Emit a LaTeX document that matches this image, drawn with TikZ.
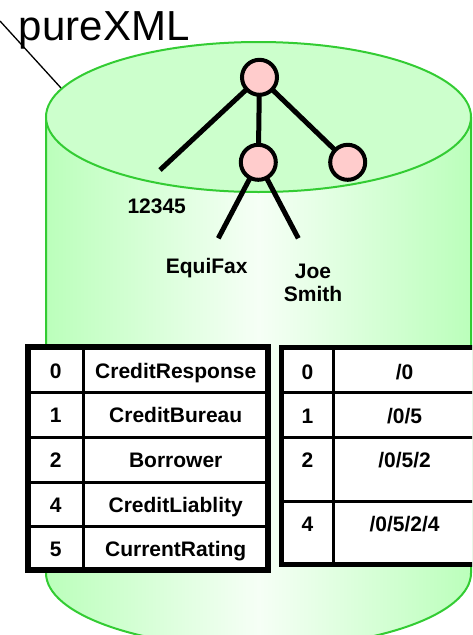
\documentclass[tikz,border=0pt]{standalone}
\usepackage{fontspec}
\setmainfont{Liberation Sans}
\definecolor{cylrim}{RGB}{51,204,51}
\definecolor{cyllid}{RGB}{204,255,204}
\definecolor{cylside}{RGB}{187,255,187}
\definecolor{cylmid}{RGB}{246,255,246}
\definecolor{knotpink}{RGB}{255,204,204}

\begin{document}
\begin{tikzpicture}[x=1pt, y=-1pt,
    every node/.style={inner sep=0pt, outer sep=0pt},
    knot/.style={circle, draw=black, line width=4pt, fill=knotpink, minimum size=35pt},
    branch/.style={line width=5pt},
    tag/.style={font=\bfseries\fontsize{21}{23}\selectfont, anchor=base, align=center},
    frame/.style={line width=5.5pt, fill=white},
    rule/.style={line width=3pt}]
      \useasboundingbox (0,0) rectangle (472,635);
      \clip (0,0) rectangle (472,635);
      % cylinder
      \shade[left color=cylside, right color=cylside, middle color=cylmid]
        (46,117) -- (46,573) arc[start angle=180, end angle=0, x radius=212.5, y radius=75] -- (471,117) -- cycle;
      \draw[cylrim, line width=2pt]
        (46,117) -- (46,573) arc[start angle=180, end angle=0, x radius=212.5, y radius=75] -- (471,117);
      \draw[cylrim, line width=2pt, fill=cyllid] (258.5,117) ellipse[x radius=212.5, y radius=75];
      % label
      \node[anchor=base west, font=\fontsize{42}{48}\selectfont] (title) at (19,40) {pureXML};
      \coordinate (pin) at (0,21);
      \coordinate (rim) at (61,88);
      \draw[line width=1.3pt] (pin) -- (rim);
      % tree
      \node[knot] (root) at (259.5,77.3) {};
      \node[knot] (mid) at (258.3,162.3) {};
      \node[knot] (right) at (347.7,162.3) {};
      \coordinate (leafa) at (160,170);
      \coordinate (leafb) at (218.3,238.3);
      \coordinate (leafc) at (298.3,238.3);
      \draw[branch] (root) -- (leafa);
      \draw[branch] (root) -- (mid);
      \draw[branch] (root) -- (right);
      \draw[branch] (mid) -- (leafb);
      \draw[branch] (mid) -- (leafc);
      \node[tag] (id) at (156.7,213.3) {12345};
      \node[tag] (bureau) at (206.7,273.3) {EquiFax};
      \node[tag] (name) at (313,301) {Joe\\Smith};
      % names table
      \draw[frame] (28,347) rectangle (268,570);
      \draw[rule] (83.5,347) -- (83.5,570);
      \draw[rule] (28,392) -- (268,392);
      \draw[rule] (28,437) -- (268,437);
      \draw[rule] (28,482) -- (268,482);
      \draw[rule] (28,526.5) -- (268,526.5);
      \node[tag] (na0) at (55.7,378.7) {0};
      \node[tag] (nb0) at (175.7,378.7) {CreditResponse};
      \node[tag] (na1) at (55.7,422.7) {1};
      \node[tag] (nb1) at (175.7,422.7) {CreditBureau};
      \node[tag] (na2) at (55.7,467.7) {2};
      \node[tag] (nb2) at (175.7,467.7) {Borrower};
      \node[tag] (na4) at (55.7,512.3) {4};
      \node[tag] (nb4) at (175.7,512.3) {CreditLiablity};
      \node[tag] (na5) at (55.7,556.7) {5};
      \node[tag] (nb5) at (175.7,556.7) {CurrentRating};
      % paths table
      \draw[frame, line width=5pt] (281.5,347.5) rectangle (478,564.5);
      \draw[rule] (333.3,347.5) -- (333.3,564.5);
      \draw[rule] (281.5,392.3) -- (478,392.3);
      \draw[rule] (281.5,437.3) -- (478,437.3);
      \draw[rule] (281.5,501) -- (478,501);
      \node[tag] (pa0) at (307.4,379.3) {0};
      \node[tag] (pb0) at (404.6,379.3) {/0};
      \node[tag] (pa1) at (307.4,423) {1};
      \node[tag] (pb1) at (404.6,423) {/0/5};
      \node[tag] (pa2) at (307.4,467.7) {2};
      \node[tag] (pb2) at (404.6,467.7) {/0/5/2};
      \node[tag] (pa4) at (307.4,531) {4};
      \node[tag] (pb4) at (404.6,531) {/0/5/2/4};
    \end{tikzpicture}
\end{document}
